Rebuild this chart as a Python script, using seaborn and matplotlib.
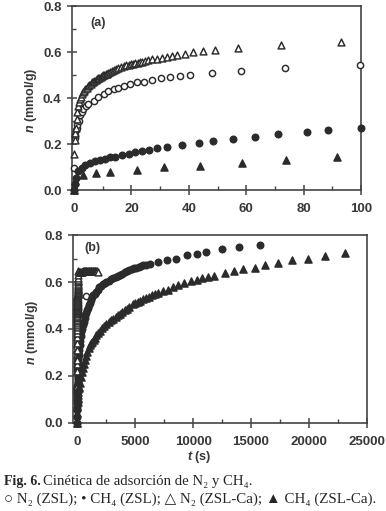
import pandas as pd
import seaborn as sns
import matplotlib.pyplot as plt
from matplotlib.ticker import MultipleLocator

# Datos (t en s, n en mmol/g)
t_n2_zsl = [0, 0.1, 0.35, 0.5, 0.7, 0.9, 1.2, 1.6, 2.1, 2.7, 3.3, 4.1, 5.0, 6.8,
            8.5, 10.3, 12.0, 13.8, 15.5, 17.3, 19.4, 21.8, 24.3, 27.3, 30.2, 33.5,
            36.8, 40.5, 48.0, 58.0, 73.5, 99.5, 790]
n_n2_zsl = [0.0, 0.096, 0.225, 0.24, 0.26, 0.27, 0.282, 0.30, 0.325, 0.34, 0.353,
            0.364, 0.375, 0.389, 0.403, 0.418, 0.429, 0.439, 0.446, 0.453, 0.46,
            0.468, 0.472, 0.479, 0.486, 0.491, 0.496, 0.50, 0.51, 0.52, 0.53, 0.543,
            0.54]

t_ch4_zsl = [0, 0.35, 0.7, 1.5, 2.7, 3.9, 5.6, 7.4, 9.1, 10.9, 12.6, 14.4, 16.7,
             19.0, 21.4, 23.7, 26.1, 29.0, 32.5, 37.5, 43.5, 48.5, 55.5, 63.0, 71.0,
             81.0, 88.5, 100, 130, 160, 200, 250, 300, 360, 420, 490, 560, 630, 700,
             780, 850, 920, 990, 1100, 1200, 1300, 1400, 1500, 1600, 1750, 1900,
             2050, 2200, 2350, 2500, 2700, 2900, 3100, 3300, 3500, 3700, 3900, 4100,
             4300, 4500, 4700, 4900, 5100, 5300, 5500, 5700, 5900, 6300, 7000, 7760,
             8520, 9450, 10350, 11130, 12450, 13950, 15770]
n_ch4_zsl = [0.0, 0.025, 0.054, 0.082, 0.096, 0.108, 0.118, 0.125, 0.132, 0.136,
             0.142, 0.146, 0.153, 0.158, 0.164, 0.168, 0.175, 0.182, 0.189, 0.197,
             0.206, 0.213, 0.224, 0.232, 0.242, 0.251, 0.261, 0.272, 0.29, 0.31,
             0.33, 0.35, 0.37, 0.385, 0.40, 0.415, 0.43, 0.445, 0.46, 0.47, 0.48,
             0.49, 0.50, 0.512, 0.524, 0.535, 0.543, 0.551, 0.559, 0.568, 0.577,
             0.584, 0.59, 0.595, 0.60, 0.606, 0.612, 0.617, 0.622, 0.626, 0.63,
             0.636, 0.641, 0.646, 0.65, 0.655, 0.659, 0.662, 0.665, 0.668, 0.671,
             0.673, 0.678, 0.686, 0.694, 0.70, 0.714, 0.72, 0.728, 0.739, 0.75, 0.76]

t_n2_zslca = [0, 0.05, 0.3, 0.5, 0.7, 0.9, 1.2, 1.5, 1.8, 2.1, 2.4, 2.7, 3.1, 3.6,
              4.0, 4.5, 4.9, 5.3, 5.8, 6.2, 6.6, 7.1, 7.5, 8.0, 8.4, 8.8, 9.3, 9.7,
              10.2, 10.6, 11.0, 11.5, 12.0, 12.6, 13.2, 13.8, 14.6, 15.5, 16.4, 17.3,
              18.2, 19.0, 19.8, 20.6, 21.4, 22.2, 23.0, 23.7, 24.7, 25.7, 27.3, 29.0,
              30.7, 32.5, 34.2, 36.0, 38.5, 41.5, 45.0, 49.0, 57.0, 72.0, 93.0,
              130, 190, 250, 310, 370, 430, 490, 550, 610, 670, 730, 790, 850, 910,
              970, 1030, 1090, 1150, 1210, 1270, 1330, 1390, 1450, 1510, 1570, 1630,
              1690, 1780]
n_n2_zslca = [0.0, 0.155, 0.22, 0.25, 0.268, 0.31, 0.34, 0.367, 0.382, 0.395, 0.407,
              0.418, 0.426, 0.433, 0.44, 0.446, 0.452, 0.457, 0.463, 0.468, 0.472,
              0.475, 0.479, 0.482, 0.486, 0.489, 0.493, 0.496, 0.499, 0.501, 0.504,
              0.506, 0.51, 0.515, 0.518, 0.522, 0.526, 0.530, 0.535, 0.539, 0.542,
              0.545, 0.547, 0.549, 0.551, 0.553, 0.556, 0.559, 0.562, 0.565, 0.569,
              0.572, 0.575, 0.579, 0.583, 0.588, 0.593, 0.599, 0.603, 0.608, 0.619,
              0.632, 0.645,
              0.643, 0.643, 0.644, 0.644, 0.644, 0.644, 0.645, 0.645, 0.645, 0.645,
              0.645, 0.645, 0.645, 0.645, 0.645, 0.645, 0.645, 0.645, 0.645, 0.645,
              0.645, 0.645, 0.645, 0.645, 0.645, 0.645, 0.645, 0.642]

t_ch4_zslca = [0, 0.5, 3.0, 7.5, 12.7, 22.0, 31.3, 43.8, 58.6, 74.0, 91.7, 120, 145,
               200, 290, 380, 470, 565, 660, 760, 870, 990, 1100, 1200, 1300, 1410,
               1520, 1650, 1800, 1950, 2100, 2300, 2500, 2700, 2900, 3100, 3300, 3500,
               3700, 3900, 4100, 4300, 4500, 4800, 5000, 5200, 5400, 5650, 5900, 6150,
               6450, 6700, 7000, 7400, 7800, 8250, 8700, 9250, 9800, 10300, 10800,
               11300, 11800, 12730, 13490, 14280, 15350, 16190, 17290, 18550, 19900,
               21370, 23080]
n_ch4_zslca = [0.0, 0.04, 0.066, 0.073, 0.08, 0.089, 0.10, 0.106, 0.117, 0.13, 0.143,
               0.148, 0.153, 0.17, 0.196, 0.215, 0.233, 0.25, 0.268, 0.285, 0.302,
               0.32, 0.33, 0.338, 0.345, 0.352, 0.362, 0.372, 0.383, 0.393, 0.402,
               0.412, 0.42, 0.428, 0.436, 0.443, 0.45, 0.458, 0.465, 0.472, 0.479,
               0.486, 0.494, 0.505, 0.51, 0.516, 0.521, 0.527, 0.533, 0.538, 0.544,
               0.548, 0.553, 0.56, 0.568, 0.577, 0.587, 0.595, 0.603, 0.61, 0.617,
               0.622, 0.627, 0.637, 0.647, 0.654, 0.662, 0.672, 0.682, 0.693, 0.70,
               0.712, 0.722]

tinta = '#2b2b2b'
texto = '#383838'

# (nombre, t, n, marcador, relleno, tamaño)
series = [
    ('N2 (ZSL)', t_n2_zsl, n_n2_zsl, 'o', 'white', 20),
    ('CH4 (ZSL)', t_ch4_zsl, n_ch4_zsl, 'o', tinta, 22),
    ('N2 (ZSL-Ca)', t_n2_zslca, n_n2_zslca, '^', 'white', 24),
    ('CH4 (ZSL-Ca)', t_ch4_zslca, n_ch4_zslca, '^', tinta, 26),
]

sns.set_style('ticks')
plt.rcParams['font.family'] = ['Liberation Sans', 'DejaVu Sans']
plt.rcParams['mathtext.fontset'] = 'custom'
plt.rcParams['mathtext.it'] = 'Liberation Sans:italic:bold'
plt.rcParams['mathtext.rm'] = 'Liberation Sans:bold'

fig = plt.figure(figsize=(3.86, 5.11), dpi=100)
ax1 = fig.add_axes([0.1865, 0.628, 0.749, 0.360])
ax2 = fig.add_axes([0.1900, 0.1728, 0.7605, 0.367])

for nombre, t, n, m, fc, s in series:
    df = pd.DataFrame({'t': t, 'n': n})
    sns.scatterplot(data=df[df['t'] <= 100], x='t', y='n', marker=m, s=s,
                    facecolor=fc, edgecolor=tinta, linewidth=1.05,
                    clip_on=False, legend=False, ax=ax1, zorder=3)
    sns.scatterplot(data=df, x='t', y='n', marker=m, s=s,
                    facecolor=fc, edgecolor=tinta, linewidth=1.05,
                    clip_on=False, legend=False, ax=ax2, zorder=3)

ax1.set_xlim(-0.7, 100)
ax1.xaxis.set_major_locator(MultipleLocator(20))
ax1.xaxis.set_minor_locator(MultipleLocator(10))
ax2.set_xlim(-340, 25000)
ax2.xaxis.set_major_locator(MultipleLocator(5000))
ax2.xaxis.set_minor_locator(MultipleLocator(2500))

for ax in (ax1, ax2):
    ax.set_ylim(0, 0.8)
    ax.yaxis.set_major_locator(MultipleLocator(0.2))
    ax.yaxis.set_minor_locator(MultipleLocator(0.1))
    ax.yaxis.set_major_formatter(plt.FormatStrFormatter('%.1f'))
    for sp in ax.spines.values():
        sp.set_linewidth(1.2)
        sp.set_color('#444444')
    ax.tick_params(which='major', direction='inout', length=7, width=1.1,
                   color='#444444', labelsize=9.5, labelcolor=texto, pad=4)
    ax.tick_params(which='minor', direction='in', length=3, width=1,
                   color='#444444')
    ax.tick_params(axis='x', which='major', pad=6)
    for lab in ax.get_xticklabels() + ax.get_yticklabels():
        lab.set_fontweight('bold')
    ax.set_ylabel(r'$n$ (mmol/g)', fontsize=9, fontweight='bold', color=texto)
    ax.set_xlabel('')

ax1.yaxis.set_label_coords(-0.115, 0.49)
ax2.yaxis.set_label_coords(-0.115, 0.48)
ax2.set_xlabel(r'$t$ (s)', fontsize=9, fontweight='bold', color=texto)
ax2.xaxis.set_label_coords(0.43, -0.14)

ax1.text(0.09, 0.91, '(a)', transform=ax1.transAxes, ha='center', va='center',
         fontsize=9, fontweight='bold', color=texto)
ax2.text(0.065, 0.93, '(b)', transform=ax2.transAxes, ha='center', va='center',
         fontsize=9, fontweight='bold', color=texto)

# Pie de figura
serif = ['Liberation Serif', 'DejaVu Serif', 'DejaVu Sans']
fig.text(4 / 386, 1 - 482 / 511, 'Fig. 6.', family=serif, fontweight='bold',
         fontsize=10, va='center', ha='left')
fig.text(43 / 386, 1 - 482 / 511, 'Cinética de adsorción de N₂ y CH₄.',
         family=serif, fontsize=10.6, va='center', ha='left')
fig.text(4 / 386, 1 - 499 / 511,
         '○ N₂ (ZSL); • CH₄ (ZSL); △ N₂ (ZSL-Ca); ▲ CH₄ (ZSL-Ca).',
         family=serif, fontsize=10.8, va='center', ha='left')

fig.savefig('out.png', dpi=100)
